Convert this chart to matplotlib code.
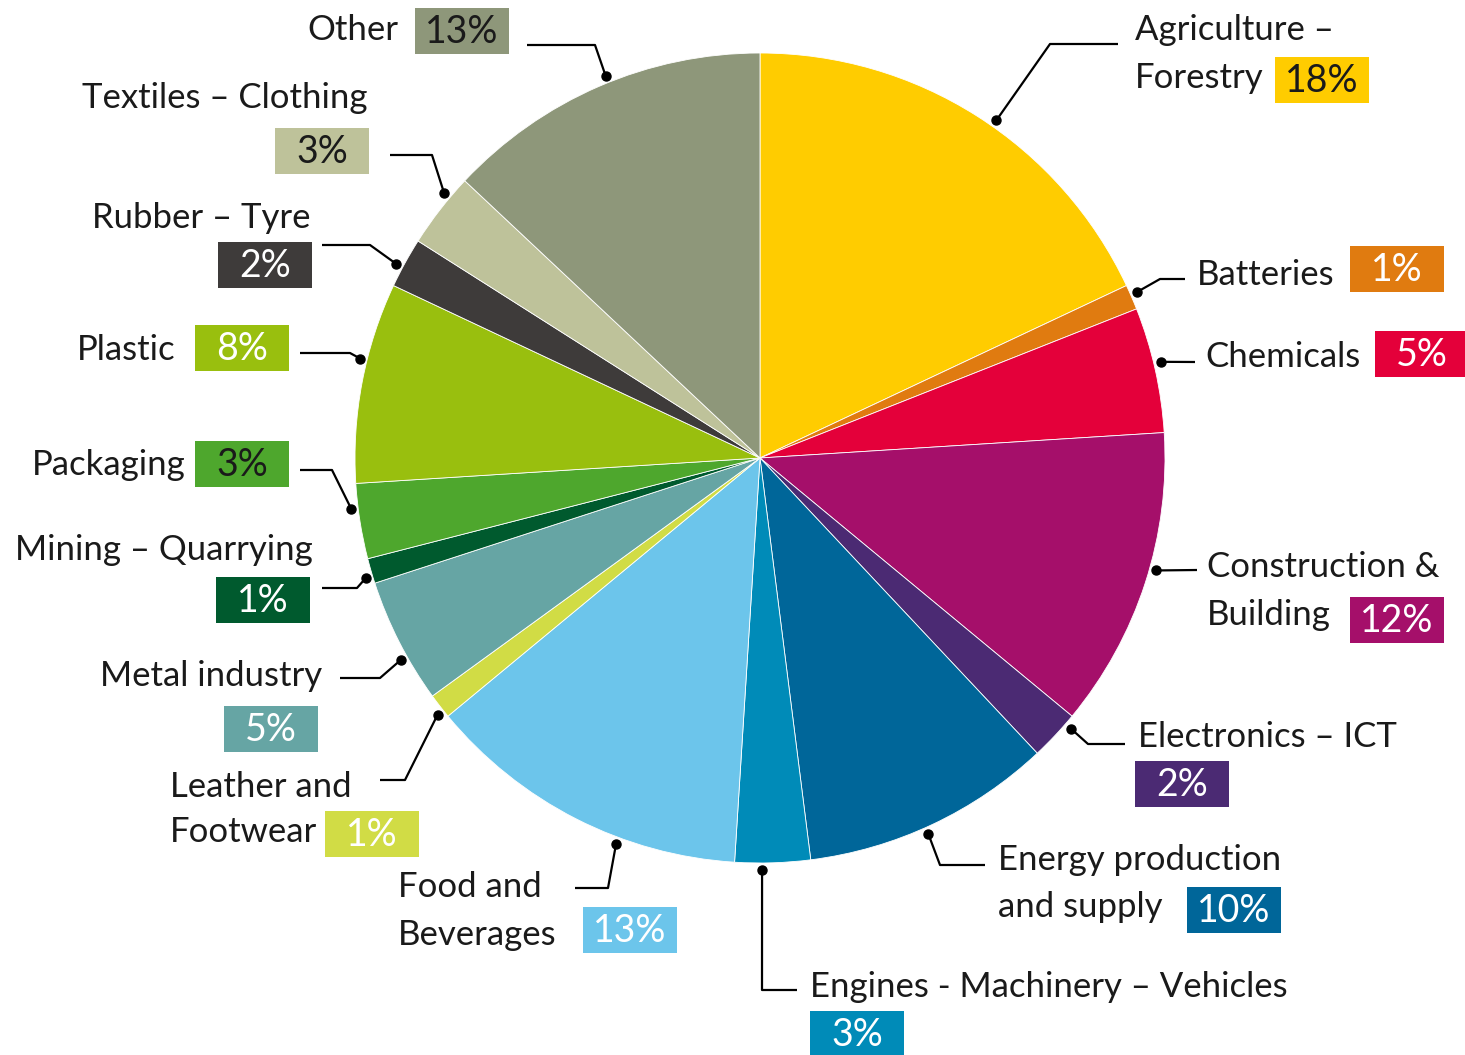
import numpy as np
import matplotlib
matplotlib.use("Agg")
import matplotlib.pyplot as plt
from matplotlib.patches import Rectangle

plt.rcParams["font.family"] = "Lato"

# data, clockwise from the top
categories = [
    "Agriculture – Forestry", "Batteries", "Chemicals", "Construction & Building",
    "Electronics – ICT", "Energy production and supply", "Engines - Machinery – Vehicles",
    "Food and Beverages", "Leather and Footwear", "Metal industry", "Mining – Quarrying",
    "Packaging", "Plastic", "Rubber – Tyre", "Textiles – Clothing", "Other",
]
shares = [18, 1, 5, 12, 2, 10, 3, 13, 1, 5, 1, 3, 8, 2, 3, 13]

colors = ["#FFCC00", "#E07B10", "#E4003A", "#A50F6A", "#4B2A73", "#006699", "#008BB8",
          "#6CC5EB", "#D1DC45", "#66A5A4", "#005A2E", "#4EA72D", "#99BF0E", "#3E3B3A",
          "#BEC29A", "#8E977A"]
dark_pct = {"Agriculture – Forestry", "Packaging", "Textiles – Clothing", "Other"}

# layout: label lines (text, x, y), box top-left, where the dot sits inside the wedge,
# connector points after the dot
layout = [
    dict(lines=[("Agriculture –", 1135, 30), ("Forestry", 1135, 78)], ha="left", box=(1275, 57), f=0.54, path=[(1050, 44), (1118, 44)]),
    dict(lines=[("Batteries", 1197, 275)], ha="left", box=(1350, 246), f=0.4, path=[(1160, 279), (1185, 279)]),
    dict(lines=[("Chemicals", 1205, 357)], ha="left", box=(1375, 331), f=0.45, path=[(1195, 362)]),
    dict(lines=[("Construction &", 1207, 567), ("Building", 1207, 615)], ha="left", box=(1350, 597), f=0.45, path=[(1197, 570)]),
    dict(lines=[("Electronics – ICT", 1138, 737)], ha="left", box=(1135, 761), f=0.2, path=[(1088, 744), (1125, 744)]),
    dict(lines=[("Energy production", 998, 860), ("and supply", 998, 907)], ha="left", box=(1187, 887), f=0.53, path=[(940, 865), (985, 865)]),
    dict(lines=[("Engines - Machinery – Vehicles", 810, 987)], ha="left", box=(810, 1011), f=0.64, path=[(762, 990), (797, 990)]),
    dict(lines=[("Food and", 398, 887), ("Beverages", 398, 935)], ha="left", box=(583, 907), f=0.36, path=[(608, 888), (575, 888)]),
    dict(lines=[("Leather and", 170, 787), ("Footwear", 170, 832)], ha="left", box=(325, 811), f=0.3, path=[(405, 780), (380, 780)]),
    dict(lines=[("Metal industry", 322, 676)], ha="right", box=(224, 706), f=0.37, path=[(380, 678), (340, 678)]),
    dict(lines=[("Mining – Quarrying", 313, 550)], ha="right", box=(216, 577), f=0.3, path=[(357, 588), (322, 588)]),
    dict(lines=[("Packaging", 186, 465)], ha="right", box=(195, 441), f=0.68, path=[(332, 470), (300, 470)]),
    dict(lines=[("Plastic", 176, 350)], ha="right", box=(195, 325), f=0.61, path=[(350, 353), (300, 353)]),
    dict(lines=[("Rubber – Tyre", 310, 218)], ha="right", box=(218, 242), f=0.4, path=[(370, 245), (322, 245)]),
    dict(lines=[("Textiles – Clothing", 367, 98)], ha="right", box=(275, 128), f=0.7, path=[(432, 155), (390, 155)]),
    dict(lines=[("Other", 398, 30)], ha="right", box=(415, 8), f=0.53, path=[(595, 45), (527, 45)]),
]

cx, cy, r = 760, 458, 405
box_w, box_h = 94, 46

fig = plt.figure(figsize=(14.65, 10.55), dpi=100, facecolor="white")
ax = fig.add_axes([0, 0, 1, 1])
wedges, _ = ax.pie(shares, colors=colors, startangle=-90, counterclock=True,
                   center=(cx, cy), radius=r,
                   wedgeprops=dict(edgecolor="white", linewidth=0.6))
ax.set_xlim(0, 1465)
ax.set_ylim(1055, 0)
ax.set_aspect("equal")
ax.axis("off")

for w, name, val, col, lay in zip(wedges, categories, shares, colors, layout):
    ang = np.deg2rad(w.theta1 + lay["f"] * (w.theta2 - w.theta1))
    dx, dy = cx + 412 * np.cos(ang), cy + 412 * np.sin(ang)
    pts = [(dx, dy)] + lay["path"]
    xs, ys = zip(*pts)
    ax.plot(xs, ys, color="black", lw=1.6, solid_capstyle="butt", zorder=3)
    ax.plot(dx, dy, "o", color="black", markersize=6.5, zorder=4)
    for txt, tx, ty in lay["lines"]:
        ax.text(tx, ty, txt, ha=lay["ha"], va="center", fontsize=25, color="#1a1a1a")
    bx, by = lay["box"]
    ax.add_patch(Rectangle((bx, by), box_w, box_h, facecolor=col, edgecolor="none", zorder=3))
    ax.text(bx + box_w / 2, by + box_h / 2 + 1, f"{val}%", ha="center", va="center", fontsize=27,
            color="#1a1a1a" if name in dark_pct else "white", zorder=4)

fig.savefig("out.png", dpi=100, facecolor="white")
